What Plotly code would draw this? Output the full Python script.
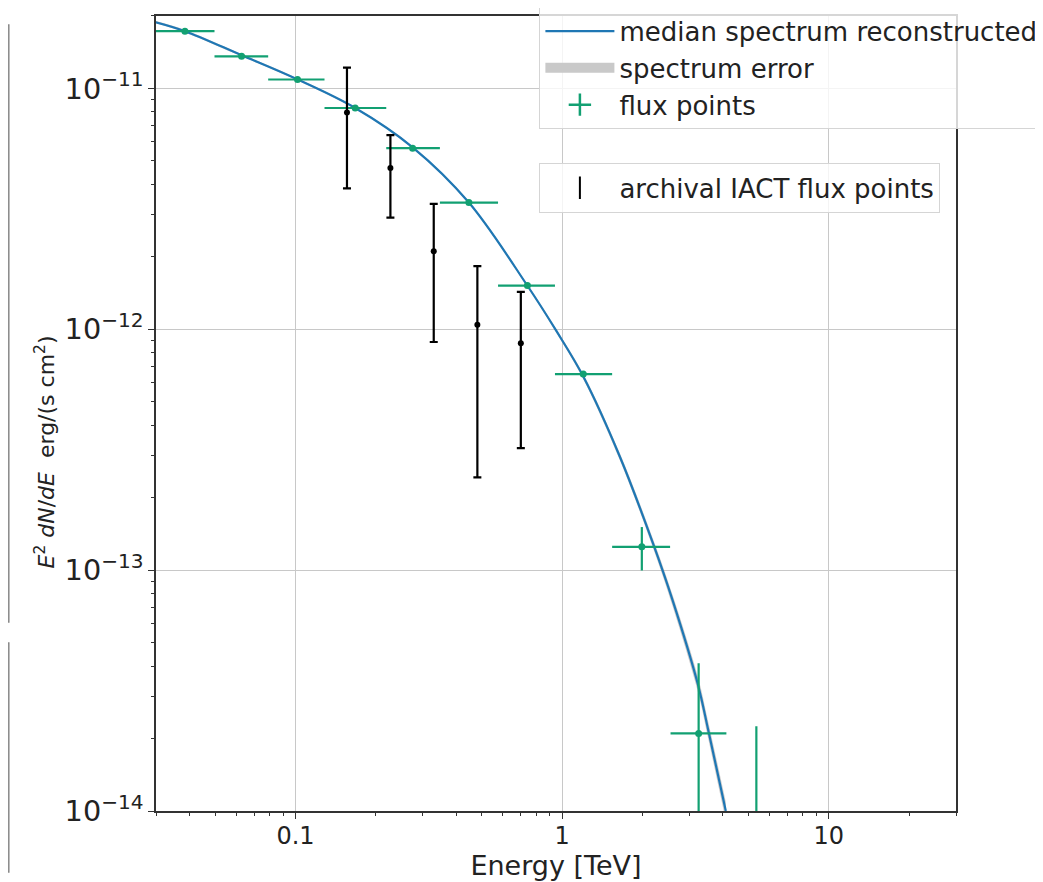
import plotly.graph_objects as go

# median reconstructed spectrum
curve_e = [0.0297, 0.0385, 0.0628, 0.1019, 0.1675, 0.275, 0.447, 0.739, 0.954, 1.203,
           1.642, 2.19, 2.60, 3.235, 3.53, 4.11]
curve_f = [1.888e-11, 1.73e-11, 1.374e-11, 1.09e-11, 8.30e-12, 5.70e-12, 3.36e-12, 1.524e-12,
           9.8e-13, 6.34e-13, 2.98e-13, 1.294e-13, 7.45e-14, 3.33e-14, 2.17e-14, 1.0e-14]
band_hi = [1.91e-11, 1.75e-11, 1.39e-11, 1.10e-11, 8.38e-12, 5.76e-12, 3.40e-12, 1.545e-12,
           9.97e-13, 6.5e-13, 3.08e-13, 1.35e-13, 7.85e-14, 3.58e-14, 2.35e-14, 1.09e-14]
band_lo = [1.87e-11, 1.71e-11, 1.36e-11, 1.08e-11, 8.22e-12, 5.64e-12, 3.32e-12, 1.503e-12,
           9.63e-13, 6.18e-13, 2.88e-13, 1.24e-13, 7.05e-14, 3.1e-14, 2.0e-14, 0.91e-14]

# flux points
fp_e = [0.0385, 0.0628, 0.1018, 0.1675, 0.275, 0.447, 0.741, 1.2, 1.99, 3.25]
fp_e_lo = [0.0298, 0.0497, 0.0790, 0.1285, 0.219, 0.348, 0.575, 0.94, 1.54, 2.55]
fp_e_hi = [0.0497, 0.0790, 0.1285, 0.219, 0.348, 0.575, 0.94, 1.54, 2.54, 4.13]
fp_f = [1.73e-11, 1.36e-11, 1.09e-11, 8.3e-12, 5.65e-12, 3.36e-12, 1.52e-12, 6.52e-13, 1.25e-13, 2.1e-14]
fp_f_hi = [1.76e-11, 1.38e-11, 1.11e-11, 8.45e-12, 5.75e-12, 3.42e-12, 1.55e-12, 6.7e-13, 1.51e-13, 4.11e-14]
fp_f_lo = [1.70e-11, 1.34e-11, 1.07e-11, 8.15e-12, 5.55e-12, 3.30e-12, 1.49e-12, 6.35e-13, 9.97e-14, 1e-15]
# last bin: only the bar down from the upper end is visible
ul_e = [5.35]
ul_f_hi = [2.25e-14]

# archival IACT points
iact_e = [0.156, 0.227, 0.330, 0.481, 0.700]
iact_f = [7.95e-12, 4.68e-12, 2.11e-12, 1.045e-12, 8.75e-13]
iact_hi = [1.22e-11, 6.4e-12, 3.32e-12, 1.83e-12, 1.43e-12]
iact_lo = [3.85e-12, 2.91e-12, 8.86e-13, 2.43e-13, 3.21e-13]

GREEN = '#12a072'
BLUE = '#1f77b4'
FONT = 'DejaVu Sans'

fig = go.Figure()

fig.add_trace(go.Scatter(x=curve_e, y=band_lo, mode='lines', line=dict(width=0, shape='spline', smoothing=1),
                         showlegend=False, hoverinfo='skip'))
fig.add_trace(go.Scatter(x=curve_e, y=band_hi, mode='lines', line=dict(width=0, shape='spline', smoothing=1),
                         fill='tonexty', fillcolor='rgba(150,150,150,0.5)', showlegend=False))
fig.add_trace(go.Scatter(x=curve_e, y=curve_f, mode='lines',
                         line=dict(color=BLUE, width=2.2, shape='spline', smoothing=1),
                         name='median spectrum reconstructed', legendrank=1))
# legend patch for the error band
fig.add_trace(go.Scatter(x=[None], y=[None], mode='lines', name='spectrum error', legendrank=2,
                         line=dict(color='#c9c9c9', width=10)))

fig.add_trace(go.Scatter(
    x=fp_e, y=fp_f, mode='markers', marker=dict(color=GREEN, size=7),
    error_x=dict(type='data', symmetric=False,
                 array=[h - e for h, e in zip(fp_e_hi, fp_e)],
                 arrayminus=[e - l for e, l in zip(fp_e, fp_e_lo)],
                 color=GREEN, thickness=2.2, width=0),
    error_y=dict(type='data', symmetric=False,
                 array=[h - f for h, f in zip(fp_f_hi, fp_f)],
                 arrayminus=[f - l for f, l in zip(fp_f, fp_f_lo)],
                 color=GREEN, thickness=2.2, width=0),
    showlegend=False))
fig.add_trace(go.Scatter(
    x=ul_e, y=ul_f_hi, mode='markers', marker=dict(color=GREEN, size=0.1, opacity=0),
    error_y=dict(type='data', symmetric=False, array=[0], arrayminus=[ul_f_hi[0] - 1e-16],
                 color=GREEN, thickness=2.2, width=0),
    showlegend=False))
# legend entry for the flux points
fig.add_trace(go.Scatter(x=[None], y=[None], mode='markers', name='flux points', legendrank=3,
                         marker=dict(symbol='cross-thin', size=22, line=dict(color=GREEN, width=2.5))))

fig.add_trace(go.Scatter(
    x=iact_e, y=iact_f, mode='markers', marker=dict(color='black', size=6),
    error_y=dict(type='data', symmetric=False,
                 array=[h - f for h, f in zip(iact_hi, iact_f)],
                 arrayminus=[f - l for f, l in zip(iact_f, iact_lo)],
                 color='black', thickness=2.2, width=4),
    showlegend=False))
fig.add_trace(go.Scatter(x=[None], y=[None], mode='markers', name='archival IACT flux points',
                         legend='legend2',
                         marker=dict(symbol='line-ns', size=20, line=dict(color='black', width=2))))

axis_common = dict(
    type='log', showline=True, mirror=True, linecolor='#333', linewidth=1.5,
    ticks='outside', ticklen=6, tickwidth=1.3, tickcolor='#333',
    showgrid=True, gridcolor='#c8c8c8', gridwidth=1.2, zeroline=False,
    tickfont=dict(family=FONT, size=24, color='#222'),
    dtick=1,
    minor=dict(ticks='outside', ticklen=3.5, tickcolor='#333', tickwidth=1, showgrid=False),
)

legend_common = dict(xanchor='left', yanchor='top',
                     bgcolor='rgba(255,255,255,0.8)', bordercolor='#d5d5d5', borderwidth=1.2,
                     font=dict(family=FONT, size=26, color='#222'), itemwidth=69)

# the page adds an 8px body margin, so margins are reduced by 8 on the left/top
fig.update_layout(
    width=1043, height=882,
    margin=dict(l=148, r=95, t=8, b=79, autoexpand=False),
    plot_bgcolor='white', paper_bgcolor='white',
    font=dict(family=FONT, size=24, color='#222'),
    xaxis=dict(axis_common, range=[-1.523, 1.477], ticklabelstandoff=-4,
               title=dict(text='Energy [TeV]', font=dict(size=27), standoff=2)),
    yaxis=dict(axis_common, range=[-14, -10.699], exponentformat='power',
               tickfont=dict(family=FONT, size=23, color='#222')),
    legend=dict(legend_common, x=0.479, y=1.012, traceorder='normal'),
    legend2=dict(legend_common, x=0.479, y=0.815),
    annotations=[dict(
        text='<i>E</i><sup>2</sup> <i>dN</i>/<i>dE</i>  erg/(s cm<sup>2</sup>)',
        textangle=-90, x=-0.139, y=0.452, xref='paper', yref='paper',
        xanchor='center', yanchor='middle',
        showarrow=False, font=dict(family=FONT, size=22, color='#222'))],
    shapes=[
        dict(type='rect', xref='paper', yref='paper', x0=-0.25, x1=-0.184, y0=0.2377, y1=0.9887,
             line=dict(color='#888', width=1.5)),
        dict(type='rect', xref='paper', yref='paper', x0=-0.25, x1=-0.184, y0=-0.0767, y1=0.2113,
             line=dict(color='#888', width=1.5)),
    ],
)

fig.write_html("out.html")
